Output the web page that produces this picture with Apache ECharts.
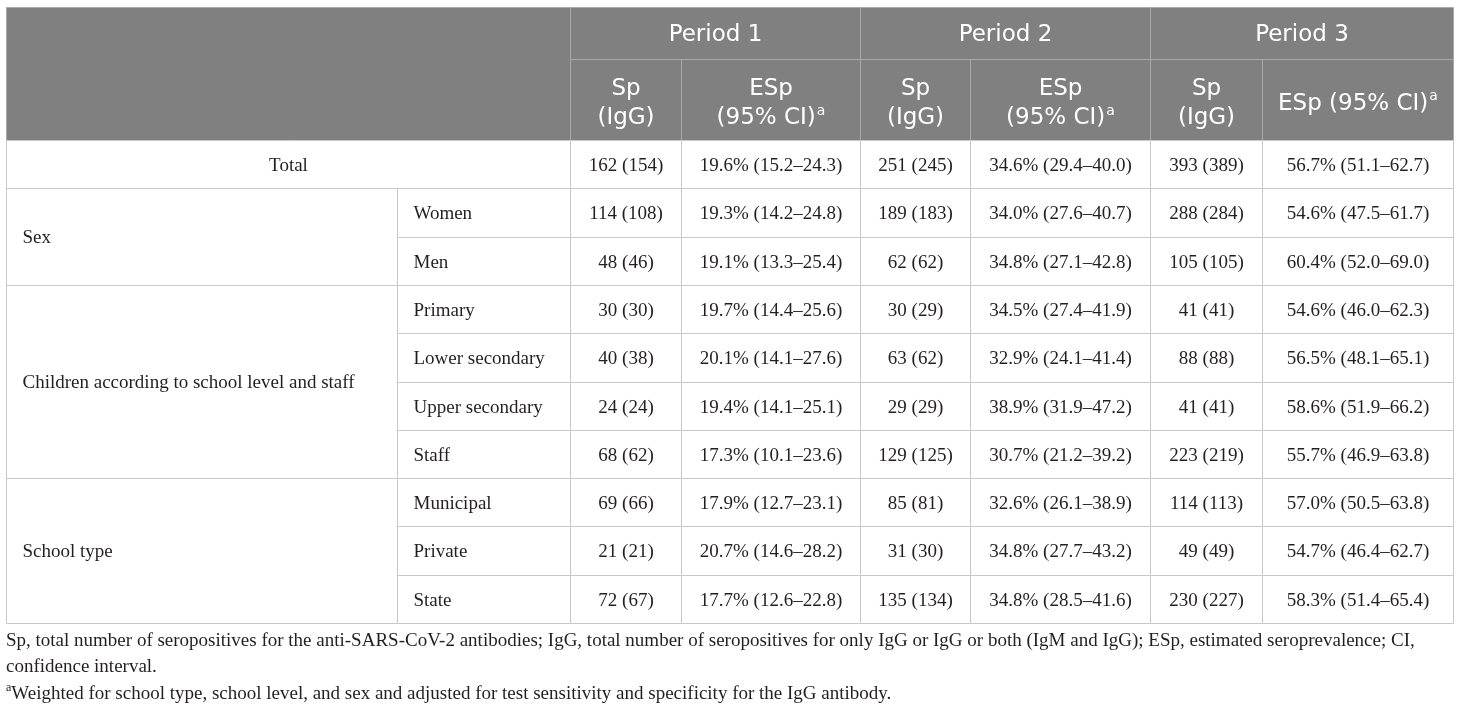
<!DOCTYPE html>
<html>
<head>
<meta charset="utf-8">
<script src="https://cdn.jsdelivr.net/npm/echarts@6/dist/echarts.min.js"></script>
<style>
html, body { margin: 0; padding: 0; background: #fff; }
#chart { width: 1460px; height: 710px; }
</style>
</head>
<body>
<div id="chart"></div>
<script>
/* DATOS DE LA TABLA */
var periods = ['Period 1', 'Period 2', 'Period 3'];
var groups = ['Total', 'Sex', 'Children according to school level and staff', 'School type'];
var subgroups = [[''], ['Women', 'Men'], ['Primary', 'Lower secondary', 'Upper secondary', 'Staff'], ['Municipal', 'Private', 'State']];

// periodo 1
var sp1 = [162, 114, 48, 30, 40, 24, 68, 69, 21, 72];
var igg1 = [154, 108, 46, 30, 38, 24, 62, 66, 21, 67];
var esp1 = [19.6, 19.3, 19.1, 19.7, 20.1, 19.4, 17.3, 17.9, 20.7, 17.7];
var lo1 = [15.2, 14.2, 13.3, 14.4, 14.1, 14.1, 10.1, 12.7, 14.6, 12.6];
var hi1 = [24.3, 24.8, 25.4, 25.6, 27.6, 25.1, 23.6, 23.1, 28.2, 22.8];
// periodo 2
var sp2 = [251, 189, 62, 30, 63, 29, 129, 85, 31, 135];
var igg2 = [245, 183, 62, 29, 62, 29, 125, 81, 30, 134];
var esp2 = [34.6, 34.0, 34.8, 34.5, 32.9, 38.9, 30.7, 32.6, 34.8, 34.8];
var lo2 = [29.4, 27.6, 27.1, 27.4, 24.1, 31.9, 21.2, 26.1, 27.7, 28.5];
var hi2 = [40.0, 40.7, 42.8, 41.9, 41.4, 47.2, 39.2, 38.9, 43.2, 41.6];
// periodo 3
var sp3 = [393, 288, 105, 41, 88, 41, 223, 114, 49, 230];
var igg3 = [389, 284, 105, 41, 88, 41, 219, 113, 49, 227];
var esp3 = [56.7, 54.6, 60.4, 54.6, 56.5, 58.6, 55.7, 57.0, 54.7, 58.3];
var lo3 = [51.1, 47.5, 52.0, 46.0, 48.1, 51.9, 46.9, 50.5, 46.4, 51.4];
var hi3 = [62.7, 61.7, 69.0, 62.3, 65.1, 66.2, 63.8, 63.8, 62.7, 65.4];

var footnote1 = 'Sp, total number of seropositives for the anti-SARS-CoV-2 antibodies; IgG, total number of seropositives for only IgG or IgG or both (IgM and IgG); ESp, estimated seroprevalence; CI,';
var footnote2 = 'confidence interval.';
var footnote3 = 'Weighted for school type, school level, and sex and adjusted for test sensitivity and specificity for the IgG antibody.';

/* DISPOSICION (en unidades del eje) */
var colEdges = [0, 391, 564, 675, 854, 964, 1144, 1256, 1447];
var headEdges = [0, 52, 133];
var rowH = 48.3;
var tableH = 616;

var SANS = '"DejaVu Sans", sans-serif';
var SERIF = '"Liberation Serif", serif';
var HEAD_BG = '#808080';
var HEAD_LINE = '#a9a9a9';
var BODY_LINE = '#c8c8c8';
var TXT = '#231f20';

function rowTop(i) { return headEdges[2] + i * rowH; }

var spCols = [sp1, sp2, sp3], iggCols = [igg1, igg2, igg3];
var espCols = [esp1, esp2, esp3], loCols = [lo1, lo2, lo3], hiCols = [hi1, hi2, hi3];

/* CONSTRUIR CELDAS */
var cells = [];
function addCell(x0, x1, y0, y1, text, kind, align) {
	cells.push({ value: [x0, x1, y0, y1], text: text, kind: kind, align: align || 'center' });
}

// cabecera
addCell(colEdges[0], colEdges[2], headEdges[0], headEdges[2], '', 'head');
periods.forEach(function (p, k) {
	var c = 2 + k * 2;
	addCell(colEdges[c], colEdges[c + 2], headEdges[0], headEdges[1], p, 'period');
	addCell(colEdges[c], colEdges[c + 1], headEdges[1], headEdges[2], 'Sp\n(IgG)', 'head');
	var espLabel = k === 2 ? 'ESp (95% CI){sup|a}' : 'ESp\n(95% CI){sup|a}';
	addCell(colEdges[c + 1], colEdges[c + 2], headEdges[1], headEdges[2], espLabel, 'head');
});

// cuerpo
var r = 0;
groups.forEach(function (g, gi) {
	var subs = subgroups[gi];
	if (gi === 0) {
		addCell(colEdges[0], colEdges[2], rowTop(r), rowTop(r + 1), g, 'body');
	} else {
		addCell(colEdges[0], colEdges[1], rowTop(r), rowTop(r + subs.length), g, 'body', 'left');
	}
	subs.forEach(function (s) {
		if (gi > 0) addCell(colEdges[1], colEdges[2], rowTop(r), rowTop(r + 1), s, 'body', 'left');
		for (var k = 0; k < 3; k++) {
			var c = 2 + k * 2;
			addCell(colEdges[c], colEdges[c + 1], rowTop(r), rowTop(r + 1),
				spCols[k][r] + ' (' + iggCols[k][r] + ')', 'body');
			addCell(colEdges[c + 1], colEdges[c + 2], rowTop(r), rowTop(r + 1),
				espCols[k][r].toFixed(1) + '% (' + loCols[k][r].toFixed(1) + '\u2013' + hiCols[k][r].toFixed(1) + ')', 'body');
		}
		r++;
	});
});

// desplazamiento vertical del texto segun tipo de celda
var textShift = { period: 2, head: 4, body: 1.5 };

function renderCell(params, api) {
	var cell = cells[params.dataIndex];
	var p0 = api.coord([api.value(0), api.value(2)]);
	var p1 = api.coord([api.value(1), api.value(3)]);
	var x0 = Math.round(p0[0]) + 0.5, y0 = Math.round(p0[1]) + 0.5;
	var x1 = Math.round(p1[0]) + 0.5, y1 = Math.round(p1[1]) + 0.5;
	var isHead = cell.kind !== 'body';
	var tx = cell.align === 'left' ? x0 + 16 : (x0 + x1) / 2;
	return {
		type: 'group',
		children: [{
			type: 'rect',
			shape: { x: x0, y: y0, width: x1 - x0, height: y1 - y0 },
			style: { fill: isHead ? HEAD_BG : '#fff', stroke: isHead ? HEAD_LINE : BODY_LINE, lineWidth: 1 }
		}, {
			type: 'text',
			z2: 10,
			style: {
				text: cell.text,
				x: tx,
				y: (y0 + y1) / 2 + textShift[cell.kind],
				align: cell.align,
				verticalAlign: 'middle',
				fill: isHead ? '#fff' : TXT,
				fontFamily: isHead ? SANS : SERIF,
				fontSize: isHead ? 23 : 19,
				lineHeight: isHead ? 29 : 22,
				rich: {
					sup: { fontSize: 14, lineHeight: 29, verticalAlign: 'top', fill: '#fff', fontFamily: SANS, padding: [0, 0, 0, 1] }
				}
			}
		}]
	};
}

var myChart = echarts.init(document.getElementById('chart'), null, { renderer: 'canvas' });
myChart.setOption({
	animation: false,
	backgroundColor: '#fff',
	grid: { left: 6, top: 7, width: 1447, height: tableH },
	xAxis: { type: 'value', min: 0, max: colEdges[colEdges.length - 1], show: false },
	yAxis: { type: 'value', min: 0, max: tableH, inverse: true, show: false },
	series: [{
		type: 'custom',
		renderItem: renderCell,
		encode: { x: [0, 1], y: [2, 3] },
		data: cells,
		silent: true,
		clip: false
	}],
	graphic: [
		{ type: 'text', style: { x: 6, y: 641.5, verticalAlign: 'middle', text: footnote1, fontFamily: SERIF, fontSize: 19, fill: TXT } },
		{ type: 'text', style: { x: 6, y: 667.5, verticalAlign: 'middle', text: footnote2, fontFamily: SERIF, fontSize: 19, fill: TXT } },
		{ type: 'text', style: {
			x: 6, y: 694, verticalAlign: 'middle',
			text: '{sup|a}' + footnote3, fontFamily: SERIF, fontSize: 19, fill: TXT, lineHeight: 24,
			rich: { sup: { fontSize: 12, lineHeight: 24, verticalAlign: 'top', fontFamily: SERIF, fill: TXT } }
		} }
	]
});
</script>
</body>
</html>
